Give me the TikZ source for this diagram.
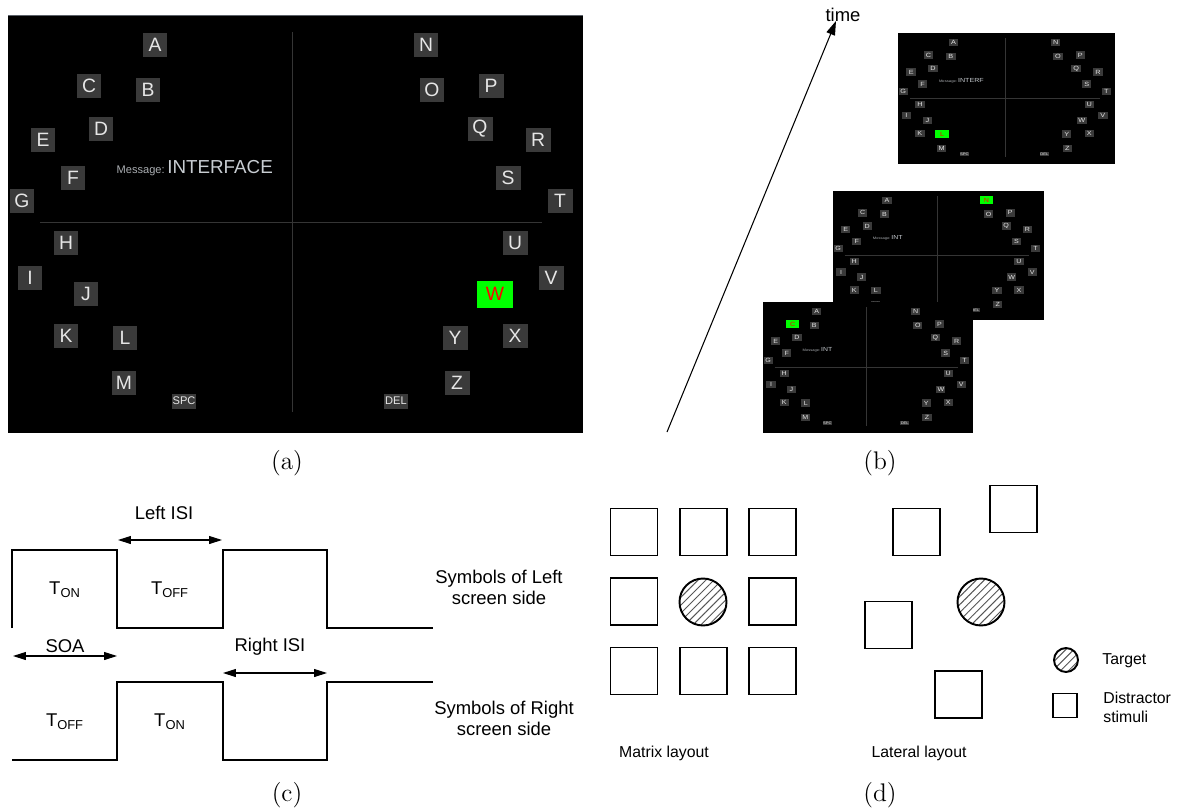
\documentclass[tikz,border=0pt]{standalone}
\usepackage{fontspec}
\newfontfamily\arialfont{Liberation Sans}
\usetikzlibrary{arrows.meta, positioning, patterns.meta}
\definecolor{ScreenBg}{HTML}{000000}
\definecolor{FrameGray}{HTML}{5A6068}
\definecolor{KeyFill}{HTML}{3A3A3A}
\definecolor{KeyText}{HTML}{E6E6E6}
\definecolor{MsgText}{HTML}{C8CDD2}
\definecolor{DividerGray}{HTML}{353535}
\definecolor{FlashFill}{HTML}{00FF00}
\definecolor{FlashText}{HTML}{FF0000}
\definecolor{HatchGray}{HTML}{555555}

\tikzset{
  keybox/.style={rectangle, fill=KeyFill, text=KeyText, inner sep=0pt, minimum width=0.5cm, minimum height=0.48cm, font=\arialfont\fontsize{11}{11}\selectfont},
  smallkey/.style={keybox, minimum height=0.3cm, font=\arialfont\fontsize{6.3}{7}\selectfont},
  flashbox/.style={fill=FlashFill, text=FlashText, minimum width=0.72cm, minimum height=0.54cm},
  flashkey/.code={\edef\tmpkey{#1}\ifx\tmpkey\flashed\tikzset{flashbox}\fi},
  msglabel/.style={inner sep=0pt, text=MsgText!85!black, font=\arialfont\fontsize{6.3}{7}\selectfont},
  msgtext/.style={inner sep=0pt, text=MsgText, font=\arialfont\fontsize{10.7}{11}\selectfont}
}

% one speller screen, 575 x 418 units, #1 prefix, #2 flashed letter, #3 message
\newcommand{\spellerscreen}[3]{%
  \def\flashed{#2}%
  \fill[ScreenBg] (0,0) rectangle (575,418);
  \draw[DividerGray] (284,17) -- (284,397);
  \draw[DividerGray] (32,207) -- (534,207);
  \foreach \ltr/\px/\py in {A/147/30, B/140/75, C/81/71, D/93/114, E/35/125, F/65/163, G/14/186,
      H/58/228, I/22/263, J/78/279, K/58/321, L/117/323, M/116/368,
      N/418/30, O/424/75, P/483/71, Q/472/114, R/530/125, S/500/163, T/552/186,
      U/507/228, V/543/263, W/487/279, X/507/321, Y/447/323, Z/449/368}
    \node[keybox, flashkey=\ltr] (#1-\ltr) at (\px,\py) {\ltr};
  \node[smallkey] (#1-spc) at (176,386) {SPC};
  \node[smallkey] (#1-del) at (388,386) {DEL};
  \node[msglabel, anchor=base east] (#1-msglbl) at (157,158) {Message:};
  \node[msgtext, anchor=base west] (#1-msg) at (159,158) {#3};
}

\begin{document}
\begin{tikzpicture}[
    x=0.02cm, y=-0.02cm,
    panel/.style={inner sep=0pt, font=\fontsize{14.5}{16}\selectfont},
    sig/.style={inner sep=0pt, font=\arialfont\fontsize{10.5}{12}\selectfont, align=center},
    wave/.style={line width=1.4pt, line join=miter},
    dimarr/.style={{Triangle[length=0.26cm, width=0.16cm]}-{Triangle[length=0.26cm, width=0.16cm]}, line width=0.6pt},
    timearr/.style={-{Triangle[length=0.28cm, width=0.18cm]}, line width=0.6pt},
    sqbox/.style={rectangle, draw, line width=1.1pt, minimum size=0.94cm, inner sep=0pt},
    target/.style={circle, draw, line width=1.1pt, minimum size=0.94cm, inner sep=0pt,
      pattern={Lines[angle=45, distance=3.2pt, line width=0.55pt]}, pattern color=HatchGray},
    legend/.style={inner sep=0pt, font=\arialfont\fontsize{9}{10.8}\selectfont, align=left}
  ]
  \useasboundingbox (0,0) rectangle (1178,809);

  % (a) speller screen
  \begin{scope}[shift={(8,15)}]
    \spellerscreen{a}{W}{INTERFACE}
  \end{scope}
  \draw[FrameGray] (8,15) -- (583,15);
  \node[panel] (lbla) at (287,463) {(a)};

  % (b) screens over time
  \coordinate (t0) at (667,432);
  \coordinate (t1) at (836,21);
  \draw[timearr] (t0) -- (t1);
  \node[sig] (timelbl) at (843,15) {time};
  \begin{scope}[shift={(898,33)}, xscale=217/575, yscale=131/418, transform shape]
    \spellerscreen{b1}{L}{INTERF}
  \end{scope}
  \begin{scope}[shift={(833,191)}, xscale=211/575, yscale=129/418, transform shape]
    \spellerscreen{b2}{N}{INT}
  \end{scope}
  \begin{scope}[shift={(763,302)}, xscale=210/575, yscale=131/418, transform shape]
    \spellerscreen{b3}{C}{INT}
  \end{scope}
  \node[panel] (lblb) at (880,463) {(b)};

  % (c) stimulus timing
  \draw[wave] (12,628) -- (12,550) -- (117,550) -- (117,628) -- (223,628) -- (223,550) -- (327,550) -- (327,628) -- (433,628);
  \draw[wave] (12,760) -- (117,760) -- (117,682) -- (223,682) -- (223,760) -- (327,760) -- (327,682) -- (433,682);
  \coordinate (lisiL) at (118,540);
  \coordinate (lisiR) at (222,540);
  \coordinate (soaL) at (13,656);
  \coordinate (soaR) at (117,656);
  \coordinate (risiL) at (223,673);
  \coordinate (risiR) at (327,673);
  \draw[dimarr] (lisiL) -- (lisiR);
  \draw[dimarr] (soaL) -- (soaR);
  \draw[dimarr] (risiL) -- (risiR);
  \node[sig] (lisi) at (164,513) {Left ISI};
  \node[sig] (soa) at (65,646) {SOA};
  \node[sig] (risi) at (270,647) {Right ISI};
  \node[sig] (lon) at (65,590) {T\textsubscript{ON}};
  \node[sig] (loff) at (170,590) {T\textsubscript{OFF}};
  \node[sig] (roff) at (65,722) {T\textsubscript{OFF}};
  \node[sig] (ron) at (170,722) {T\textsubscript{ON}};
  \node[sig] (lside) at (499,587) {Symbols of Left\\screen side};
  \node[sig] (rside) at (504,718) {Symbols of Right\\screen side};
  \node[panel] (lblc) at (287,795) {(c)};

  % (d) layouts
  \foreach \nm/\cx/\cy in {m11/634/532, m12/703.5/532, m13/772.5/532, m21/634/601.5, m23/772.5/601.5,
      m31/634/671, m32/703.5/671, m33/772.5/671}
    \node[sqbox] (\nm) at (\cx,\cy) {};
  \node[target] (mtarget) at (703,602) {};
  \node[sqbox] (l1) at (916.5,532) {};
  \node[sqbox] (l2) at (1013.5,509) {};
  \node[sqbox] (l3) at (888.5,625) {};
  \node[sqbox] (l4) at (958.5,694.5) {};
  \node[target] (ltarget) at (981,602) {};
  \node[target, minimum size=0.48cm] (legtarget) at (1066,660) {};
  \node[sqbox, minimum size=0.48cm] (legsq) at (1065,705.5) {};
  \node[legend, anchor=west] (legtxt1) at (1102,661) {Target};
  \node[legend, anchor=west] (legtxt2) at (1103,707) {Distractor\\stimuli};
  \node[legend] (mlay) at (664,753) {Matrix layout};
  \node[legend] (llay) at (919,753) {Lateral layout};
  \node[panel] (lbld) at (880,795) {(d)};
\end{tikzpicture}
\end{document}
